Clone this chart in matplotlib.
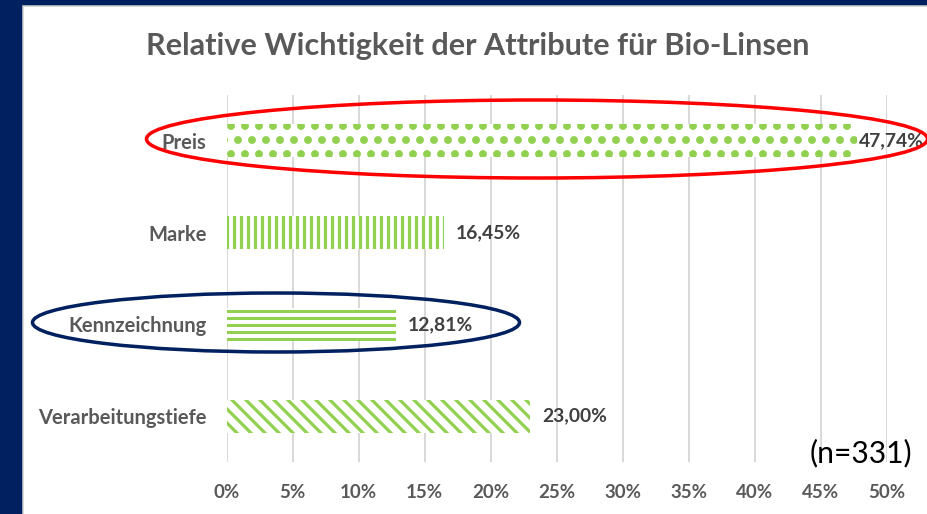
import matplotlib
matplotlib.use("Agg")
import matplotlib as mpl
import matplotlib.pyplot as plt
from matplotlib.patches import Rectangle, Ellipse

# ---------------- data ----------------
categories = ["Preis", "Marke", "Kennzeichnung", "Verarbeitungstiefe"]
values = [47.74, 16.45, 12.81, 23.00]
value_labels = ["47,74%", "16,45%", "12,81%", "23,00%"]
x_ticks = [0, 5, 10, 15, 20, 25, 30, 35, 40, 45, 50]
x_tick_labels = ["0%", "5%", "10%", "15%", "20%", "25%", "30%", "35%", "40%", "45%", "50%"]
title = "Relative Wichtigkeit der Attribute für Bio-Linsen"
note = "(n=331)"

# ---------------- style ----------------
hatches = [".", "||", "--", "\\\\"]
hatch_lw_px = [5.0, 3.2, 3.0, 3.2]
GREEN = "#92D050"
NAVY = "#002060"
GREY_TXT = "#595959"
VAL_TXT = "#404040"
GRID = "#D9D9D9"
FONT = ["Lato", "DejaVu Sans"]

DPI = 84
W, H = 927, 514


def px(v):
    return v * 72.0 / DPI


plt.rcParams["font.family"] = FONT

fig = plt.figure(figsize=(W / DPI, H / DPI), dpi=DPI, facecolor=NAVY)

# white panel with light border
panel = Rectangle((23 / W, -0.01), 1.02 - 23 / W, 1.01 - 6 / H,
                  transform=fig.transFigure, facecolor="white",
                  edgecolor="#D0D0D0", lw=px(1.5), zorder=0)
fig.add_artist(panel)

x0, x1 = 226.5, 887.0
y_top, y_bot = 95.0, 462.0
ax = fig.add_axes([x0 / W, 1 - y_bot / H, (x1 - x0) / W, (y_bot - y_top) / H])
ax.set_facecolor("none")
ax.set_xlim(x_ticks[0], x_ticks[-1])
ax.set_ylim(len(categories) - 0.5, -0.5)
ax.set_xticks(x_ticks)
ax.set_xticklabels(x_tick_labels)
ax.set_yticks(range(len(categories)))
ax.set_yticklabels(categories)
ax.grid(axis="x", color=GRID, lw=px(2))
ax.grid(axis="y", visible=False)
ax.set_axisbelow(True)
for s in ax.spines.values():
    s.set_visible(False)
ax.tick_params(axis="both", length=0, colors=GREY_TXT)
ax.tick_params(axis="x", pad=px(22))
ax.tick_params(axis="y", pad=px(20))
for t in ax.get_xticklabels() + ax.get_yticklabels():
    t.set_fontweight("bold")
    t.set_color(GREY_TXT)

for i, (v, h, hw) in enumerate(zip(values, hatches, hatch_lw_px)):
    with mpl.rc_context({"hatch.linewidth": px(hw), "hatch.color": GREEN}):
        bars = ax.barh(i, v, height=0.36, color="white", edgecolor=GREEN,
                       linewidth=0, hatch=h, zorder=2)
    for b in bars:
        if hasattr(b, "set_hatch_linewidth"):
            b.set_hatch_linewidth(px(hw))

val_texts = []
vmax = max(values)
for i, (v, lbl) in enumerate(zip(values, value_labels)):
    pad = 1.5 if v == vmax else 12
    t = ax.annotate(lbl, (v, i), xytext=(px(pad), 0), textcoords="offset points",
                    ha="left", va="center", fontweight="bold", color=VAL_TXT,
                    annotation_clip=False, zorder=5)
    val_texts.append(t)

ttl = fig.text(478 / W, 1 - 46 / H, title, ha="center", va="center",
               fontweight="bold", color=GREY_TXT)
nt = fig.text(912 / W, 1 - 453 / H, note, ha="right", va="center",
              color="black", family=["Lato", "DejaVu Sans"])

# ellipses highlighting
fig.add_artist(Ellipse((537 / W, 1 - 139 / H), 781 / W, 78 / H,
                       transform=fig.transFigure, fill=False,
                       edgecolor="#FF0000", lw=px(3.5), zorder=10))
fig.add_artist(Ellipse((276 / W, 1 - 322.5 / H), 487 / W, 59 / H,
                       transform=fig.transFigure, fill=False,
                       edgecolor=NAVY, lw=px(3.5), zorder=10))

# ---- fit font sizes to the reference widths ----
fig.canvas.draw()
r = fig.canvas.get_renderer()


def scale_for(t, target):
    w = t.get_window_extent(r).width
    return t.get_fontsize() * target / w


ttl.set_fontsize(scale_for(ttl, 661))
nt.set_fontsize(scale_for(nt, 102))
s_val = scale_for(val_texts[1], 65)
for t in val_texts:
    t.set_fontsize(s_val)
ylabs = ax.get_yticklabels()
s_y = scale_for(ylabs[3], 168)
xlabs = ax.get_xticklabels()
s_x = scale_for(xlabs[-1], 37)
ax.tick_params(axis="y", labelsize=s_y)
ax.tick_params(axis="x", labelsize=s_x)

fig.savefig("out.png", dpi=DPI, facecolor=NAVY)
